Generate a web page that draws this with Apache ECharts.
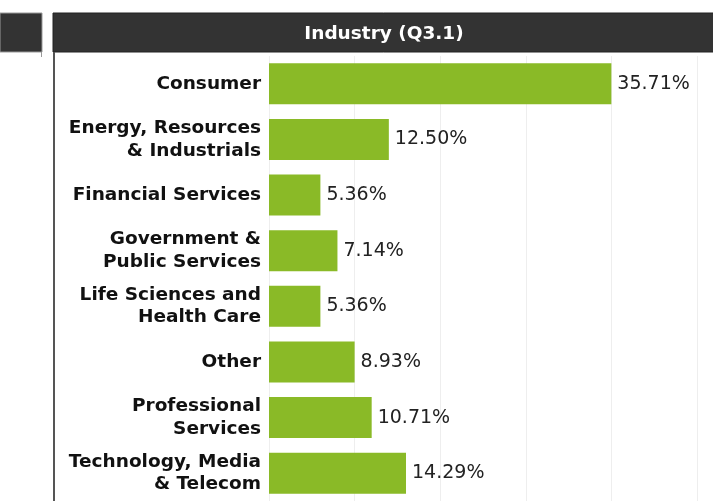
<!DOCTYPE html>
<html>
<head>
<meta charset="utf-8">
<script src="https://cdn.jsdelivr.net/npm/echarts@6/dist/echarts.min.js"></script>
<style>
  html, body { margin: 0; padding: 0; background: #fff; }
  #main { width: 713px; height: 501px; }
</style>
</head>
<body>
<div id="main"></div>
<script>
// 数据 ===============================================================
var categories = [
    'Consumer',
    'Energy, Resources\n& Industrials',
    'Financial Services',
    'Government &\nPublic Services',
    'Life Sciences and\nHealth Care',
    'Other',
    'Professional\nServices',
    'Technology, Media\n& Telecom'
];
var values = [35.71, 12.50, 5.36, 7.14, 5.36, 8.93, 10.71, 14.29];
var axisStep = 100 * 5 / 56; // 5 responses of 56
var axisMax = axisStep * 5;

// 图表 ===============================================================
var chart = echarts.init(document.getElementById('main'));
var option = {
    animation: false,
    backgroundColor: '#fff',
    graphic: [
        // left panel stub
        { type: 'rect', shape: { x: 0, y: 13, width: 42, height: 39 }, style: { fill: '#333', stroke: '#999', lineWidth: 1 }, z: 10 },
        { type: 'line', shape: { x1: 41.5, y1: 52, x2: 41.5, y2: 57 }, style: { stroke: '#999', lineWidth: 1 }, z: 10 },
        // main panel header
        { type: 'rect', shape: { x: 53, y: 13, width: 670, height: 39 }, style: { fill: '#333', stroke: '#222', lineWidth: 1 }, z: 10 },
        { type: 'line', shape: { x1: 54, y1: 52, x2: 54, y2: 501 }, style: { stroke: '#555', lineWidth: 2 }, z: 10 },
        {
            type: 'text', x: 384, y: 34, z: 11,
            style: {
                text: 'Industry (Q3.1)', fill: '#fff',
                font: 'bold 18.5px "DejaVu Sans", sans-serif',
                align: 'center', verticalAlign: 'middle'
            }
        }
    ],
    grid: { left: 269, top: 56, width: 428, height: 448, containLabel: false },
    xAxis: {
        type: 'value',
        min: 0,
        max: axisMax,
        interval: axisStep,
        axisLabel: { show: false },
        axisLine: { show: false },
        axisTick: { show: false },
        splitLine: { show: true, lineStyle: { color: '#eeeeee', width: 1 } }
    },
    yAxis: {
        type: 'category',
        inverse: true,
        data: categories,
        axisLine: { show: false },
        axisTick: { show: false },
        axisLabel: {
            margin: 8,
            color: '#111',
            fontFamily: '"DejaVu Sans", sans-serif',
            fontWeight: 'bold',
            fontSize: 18.5,
            lineHeight: 22.5,
            padding: [4, 0, 0, 0],
            align: 'right'
        }
    },
    series: [{
        type: 'bar',
        data: values,
        barWidth: 41,
        itemStyle: { color: '#8aba27' },
        label: {
            show: true,
            position: 'right',
            distance: 6,
            color: '#222',
            fontFamily: '"DejaVu Sans", sans-serif',
            fontSize: 19,
            padding: [4, 0, 0, 0],
            formatter: function (p) { return p.value.toFixed(2) + '%'; }
        }
    }]
};
chart.setOption(option);
</script>
</body>
</html>
